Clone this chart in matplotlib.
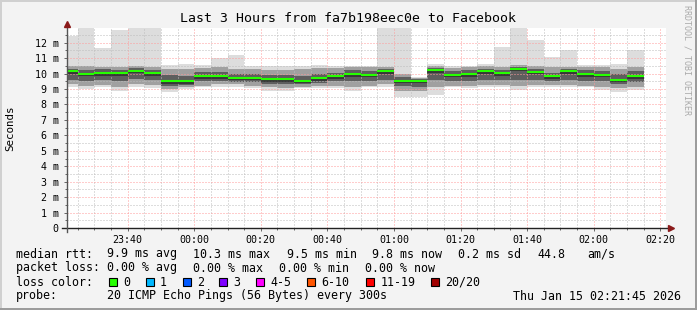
import matplotlib
matplotlib.use("Agg")
import matplotlib.pyplot as plt
import matplotlib.dates as mdates
from matplotlib.patches import Rectangle
from matplotlib.ticker import MultipleLocator, FuncFormatter
import pandas as pd

# 5 minute steps, 20 pings each (values in ms)
times = pd.date_range("2026-01-14 23:20", periods=35, freq="5min")
median = [10.15, 9.98, 10.03, 10.03, 10.17, 10.03, 9.49, 9.49, 9.82, 9.82,
          9.74, 9.74, 9.63, 9.63, 9.55, 9.70, 9.82, 9.96, 9.92, 10.15,
          9.55, 9.53, 10.22, 9.92, 9.96, 10.15, 10.02, 10.32, 10.13, 9.83,
          10.15, 9.96, 9.92, 9.61, 9.81]
ping_min = [9.15, 9.00, 9.10, 8.90, 9.10, 9.05, 8.80, 9.00, 9.10, 9.15,
            9.15, 9.05, 8.90, 8.85, 9.05, 9.05, 9.05, 8.90, 9.10, 9.10,
            8.50, 8.50, 8.60, 9.10, 9.05, 9.10, 9.10, 8.95, 9.10, 9.10,
            9.10, 9.10, 8.95, 8.80, 8.95]
ping_max = [12.40, 13.50, 11.65, 12.80, 13.50, 13.50, 10.55, 10.60, 10.55, 11.00,
            11.20, 10.50, 10.50, 10.50, 10.50, 10.55, 10.50, 10.50, 10.50, 13.50,
            13.50, 9.80, 10.60, 10.50, 10.50, 10.65, 11.75, 13.50, 12.15, 11.05,
            11.55, 10.55, 10.55, 10.60, 11.55]
mid_lo = [9.30, 9.20, 9.25, 9.15, 9.30, 9.25, 9.00, 9.10, 9.20, 9.30,
          9.30, 9.20, 9.10, 9.05, 9.15, 9.20, 9.20, 9.10, 9.20, 9.30,
          8.90, 8.90, 9.10, 9.20, 9.20, 9.25, 9.25, 9.20, 9.25, 9.25,
          9.25, 9.20, 9.15, 9.05, 9.15]
mid_hi = [10.50, 10.50, 10.45, 10.45, 10.50, 10.45, 10.30, 10.30, 10.35, 10.40,
          10.30, 10.30, 10.20, 10.25, 10.30, 10.35, 10.35, 10.40, 10.40, 10.45,
          10.00, 9.70, 10.50, 10.35, 10.40, 10.50, 10.45, 10.55, 10.50, 10.40,
          10.45, 10.40, 10.40, 10.30, 10.45]
in_lo = [9.60, 9.50, 9.60, 9.55, 9.65, 9.60, 9.20, 9.25, 9.50, 9.55,
         9.45, 9.45, 9.35, 9.35, 9.30, 9.40, 9.50, 9.50, 9.55, 9.60,
         9.20, 9.10, 9.60, 9.50, 9.55, 9.60, 9.60, 9.60, 9.60, 9.50,
         9.60, 9.55, 9.50, 9.30, 9.45]
in_hi = [10.30, 10.20, 10.30, 10.25, 10.35, 10.25, 9.90, 9.85, 10.10, 10.10,
         10.00, 10.00, 9.90, 9.90, 9.85, 9.95, 10.05, 10.20, 10.15, 10.30,
         9.75, 9.65, 10.35, 10.15, 10.20, 10.30, 10.25, 10.45, 10.30, 10.05,
         10.30, 10.20, 10.15, 9.95, 10.15]

loss_labels = ["0", "1", "2", "3", "4-5", "6-10", "11-19", "20/20"]
loss_colors = ["#26ff00", "#00b8ff", "#0059ff", "#7e00ff", "#ff00ff",
               "#ff5500", "#ff0000", "#a00000"]

W, H = 697, 310
MONO = "DejaVu Sans Mono"
plt.rcParams["font.family"] = MONO

def fx(px):
    return px / W

def fy(py):
    return 1 - py / H

fig = plt.figure(figsize=(W / 100, H / 100), dpi=100)
fig.patch.set_facecolor("#f3f3f3")

# shaded frame
fig.patches.append(Rectangle((0, fy(2)), 1, 2 / H, transform=fig.transFigure, color="#d0d0d0", lw=0))
fig.patches.append(Rectangle((0, 0), 2 / W, 1, transform=fig.transFigure, color="#d0d0d0", lw=0))
fig.patches.append(Rectangle((0, 0), 1, 2 / H, transform=fig.transFigure, color="#9c9c9c", lw=0))
fig.patches.append(Rectangle((1 - 2 / W, 0), 2 / W, 1, transform=fig.transFigure, color="#9c9c9c", lw=0))

ax = fig.add_axes([fx(67), fy(228), fx(666) - fx(67), fy(28) - fy(228)])
ax.set_facecolor("white")

x = mdates.date2num(times)
w = 5 / 1440
ax.bar(x, [b - a for a, b in zip(ping_min, ping_max)], bottom=ping_min, width=w,
       align="edge", color="#dddddd", lw=0, zorder=1)
ax.bar(x, [b - a for a, b in zip(mid_lo, mid_hi)], bottom=mid_lo, width=w,
       align="edge", color="#a0a0a0", lw=0, zorder=1.1)
ax.bar(x, [b - a for a, b in zip(in_lo, in_hi)], bottom=in_lo, width=w,
       align="edge", color="#5e5e5e", lw=0, zorder=1.2)
ax.hlines(median, x, x + w, colors="#303030", lw=1.2, zorder=3.9, offsets=(0, -1.5))
ax.hlines(median, x, x + w, colors=loss_colors[0], lw=1.5, zorder=4)

ax.set_xlim(pd.Timestamp("2026-01-14 23:21:45"), pd.Timestamp("2026-01-15 02:21:45"))
ax.set_ylim(0, 12.95)

ax.xaxis.set_major_locator(mdates.MinuteLocator(byminute=[0, 20, 40]))
ax.xaxis.set_minor_locator(mdates.MinuteLocator(byminute=[5, 10, 15, 25, 30, 35, 45, 50, 55]))
ax.xaxis.set_major_formatter(mdates.DateFormatter("%H:%M"))
ax.yaxis.set_major_locator(MultipleLocator(1))
ax.yaxis.set_minor_locator(MultipleLocator(0.5))
ax.yaxis.set_major_formatter(FuncFormatter(lambda v, p: "0" if v == 0 else "%d m" % v))

ax.set_axisbelow(False)
ax.grid(which="major", color="#ff9a9a", linestyle=(0, (1, 2)), lw=0.72, zorder=2.5)
ax.grid(which="minor", color="#bdbdbd", linestyle=(0, (1, 2)), lw=0.72, zorder=2.4)

for s in ax.spines.values():
    s.set_visible(False)
ax.tick_params(which="both", direction="out", color="#666666", width=0.7,
               labelsize=7.2, pad=3.5)
ax.tick_params(axis="x", pad=2.5)
ax.tick_params(which="major", length=2.5)
ax.tick_params(which="minor", length=1.5)

# axis lines with arrows
ax.plot([-0.008, 1.006], [0, 0], transform=ax.transAxes, color="#222222", lw=1, clip_on=False, zorder=5)
ax.plot([0, 0], [-0.02, 1.02], transform=ax.transAxes, color="#555555", lw=1, clip_on=False, zorder=5)
ax.plot([1.008], [0], transform=ax.transAxes, marker=">", ms=4.5, color="#8b1a1a", clip_on=False, zorder=6)
ax.plot([0], [1.02], transform=ax.transAxes, marker="^", ms=4.5, color="#8b1a1a", clip_on=False, zorder=6)

fig.text(fx(348), fy(19), "Last 3 Hours from fa7b198eec0e to Facebook",
         ha="center", va="center", fontsize=9.5)
fig.text(fx(10), fy(128), "Seconds", rotation=90, ha="center", va="center", fontsize=7.8)
fig.text(fx(687), fy(5), "RRDTOOL / TOBI OETIKER", rotation=270, ha="center", va="top",
         fontsize=6, color="#aaaaaa")

LS = 8.4
row1 = [(16, "median rtt:"), (107, "9.9 ms avg"), (193, "10.3 ms max"), (287, "9.5 ms min"),
        (372, "9.8 ms now"), (458, "0.2 ms sd"), (537, "44.8"), (587, "am/s")]
row2 = [(16, "packet loss:"), (107, "0.00 % avg"), (193, "0.00 % max"),
        (279, "0.00 % min"), (365, "0.00 % now")]
row4 = [(16, "probe:"), (107, "20 ICMP Echo Pings (56 Bytes) every 300s"),
        (513, "Thu Jan 15 02:21:45 2026")]
for yy, row in [(254, row1), (268, row2), (296, row4)]:
    for px, txt in row:
        fig.text(fx(px), fy(yy), txt, ha="left", va="center", fontsize=LS)

fig.text(fx(16), fy(282), "loss color:", ha="left", va="center", fontsize=LS)
box_x = [108.5, 145.5, 182.5, 219, 256, 307, 366, 430.5]
for bx, lab, col in zip(box_x, loss_labels, loss_colors):
    fig.patches.append(Rectangle((fx(bx), fy(286)), 8 / W, 8 / H, transform=fig.transFigure,
                                 facecolor=col, edgecolor="black", lw=0.8))
    fig.text(fx(bx + 14.5), fy(282), lab, ha="left", va="center", fontsize=LS)

fig.savefig("out.png", dpi=100, facecolor=fig.get_facecolor())
